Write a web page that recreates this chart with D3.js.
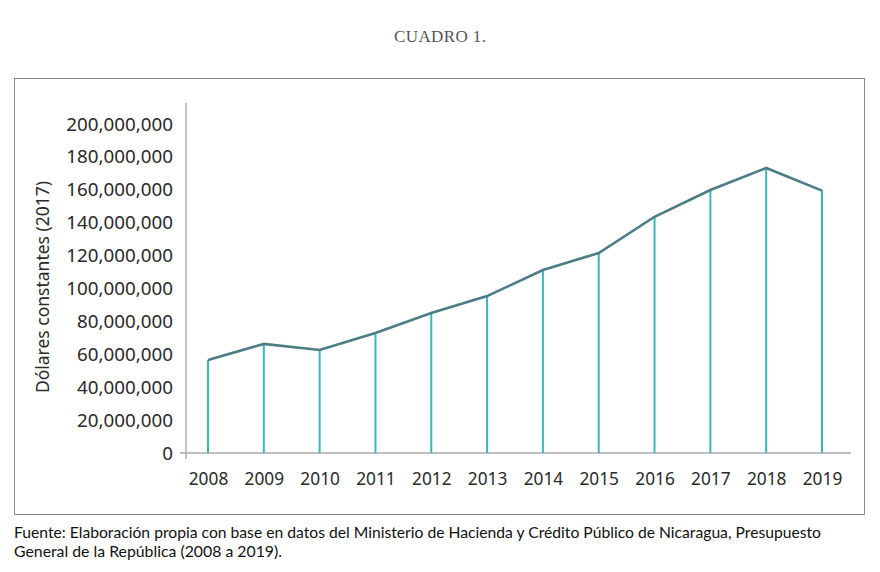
<!DOCTYPE html>
<html><head><meta charset="utf-8">
<script src="https://cdn.jsdelivr.net/npm/d3@7"></script>
<style>body{margin:0;background:#fff}</style>
</head><body>
<svg id="c" width="880" height="572"></svg>
<script>
const years = ["2008","2009","2010","2011","2012","2013","2014","2015","2016","2017","2018","2019"];
const values = [56500000,66300000,62600000,73000000,85100000,95400000,111200000,121600000,143600000,159900000,173300000,159500000];
const yTicks = [0,20000000,40000000,60000000,80000000,100000000,120000000,140000000,160000000,180000000,200000000];
const titleText = "CUADRO 1.";
const yLabel = "Dólares constantes (2017)";
const footer = ["Fuente: Elaboración propia con base en datos del Ministerio de Hacienda y Crédito Público de Nicaragua, Presupuesto","General de la República (2008 a 2019)."];

const svg = d3.select("#c");
svg.append("text").attr("x",440).attr("y",42).attr("text-anchor","middle")
  .attr("font-family","Liberation Serif").attr("font-size",17).attr("fill","#555")
  .attr("textLength",92).text(titleText);
svg.append("rect").attr("x",14.5).attr("y",78.5).attr("width",850).attr("height",436)
  .attr("fill","none").attr("stroke","#8a8a8a").attr("stroke-width",1);

const x = d3.scalePoint().domain(years).range([208,822]);
const y = d3.scaleLinear().domain([0,200000000]).range([453,124]);

const yAxis = svg.append("g").attr("transform","translate(186,0)")
  .call(d3.axisLeft(y).tickValues(yTicks).tickSize(0).tickPadding(13).tickFormat(d3.format(",")));
yAxis.select(".domain").remove();
yAxis.selectAll("text").attr("font-family","Noto Sans").attr("font-size",18.8).attr("fill","#2a2a2a");
svg.append("line").attr("x1",186).attr("x2",186).attr("y1",103).attr("y2",459).attr("stroke","#999").attr("stroke-width",1.2);
svg.append("line").attr("x1",180).attr("x2",851).attr("y1",y(0)).attr("y2",y(0)).attr("stroke","#aaa").attr("stroke-width",1.5);

const xAxis = svg.append("g").attr("transform","translate(0,"+y(0)+")")
  .call(d3.axisBottom(x).tickSize(0).tickPadding(20));
xAxis.select(".domain").remove();
xAxis.selectAll("text").attr("font-family","Noto Sans").attr("font-size",17.3).attr("fill","#2a2a2a");

svg.append("g").selectAll("line").data(values).join("line")
  .attr("x1",(d,i)=>x(years[i])).attr("x2",(d,i)=>x(years[i]))
  .attr("y1",d=>y(d)).attr("y2",y(0))
  .attr("stroke","#3cb7b7").attr("stroke-width",2);

svg.append("path").datum(values)
  .attr("d",d3.line().x((d,i)=>x(years[i])).y(d=>y(d)))
  .attr("fill","none").attr("stroke","#4a7d84").attr("stroke-width",2.6);

svg.append("text").attr("transform","translate(49,287) rotate(-90)").attr("text-anchor","middle")
  .attr("font-family","Noto Sans").attr("font-size",17.5).attr("fill","#2a2a2a").text(yLabel);

svg.append("g").selectAll("text").data(footer).join("text")
  .attr("x",14).attr("y",(d,i)=>538+i*19)
  .attr("font-family","Lato").attr("font-size",15).attr("fill","#111")
  .attr("textLength",(d,i)=>i===0?807:268).attr("lengthAdjust","spacingAndGlyphs")
  .text(d=>d);
</script>
</body></html>
